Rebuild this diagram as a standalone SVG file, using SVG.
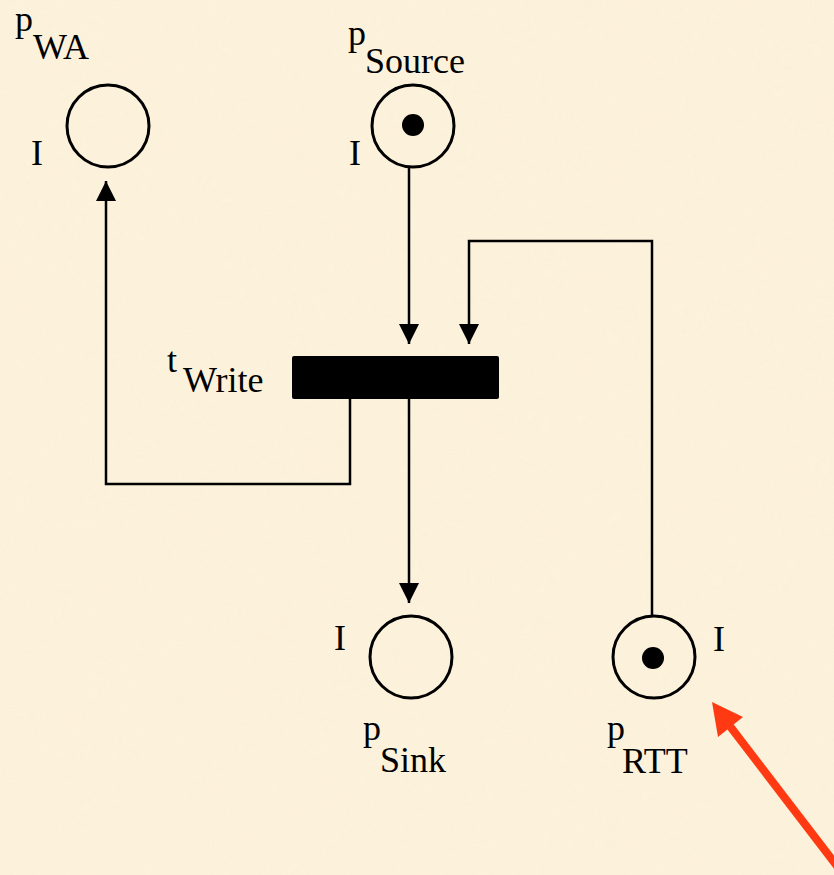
<svg xmlns="http://www.w3.org/2000/svg" width="834" height="875" viewBox="0 0 834 875">
<style>
.pl{fill:none;stroke:#000;stroke-width:3}
.tk{fill:#000}
.ed{fill:none;stroke:#000;stroke-width:2.5}
text{font-family:'Liberation Serif','Times New Roman',Times,serif;font-size:36px;fill:#000}
</style>
<defs>
<marker id="ah" markerUnits="userSpaceOnUse" markerWidth="20" markerHeight="22" viewBox="0 0 20 22" refX="20" refY="10" orient="auto">
<path d="M0,0 L20,10 L0,20 Z" fill="#000"/>
</marker>
<filter id="tex" x="0" y="0" width="100%" height="100%">
<feTurbulence type="fractalNoise" baseFrequency="0.02" numOctaves="3" seed="3"/>
<feColorMatrix type="matrix" values="0 0 0 0 0.98  0 0 0 0 0.93  0 0 0 0 0.82  0 0 0 0.25 0"/>
</filter>
</defs>
<rect width="834" height="875" fill="#fcf1da"/>
<rect width="834" height="875" filter="url(#tex)" opacity="0.6"/>

<g id="connectors">
<path class="ed" d="M409,167 L409,344" marker-end="url(#ah)"/>
<path class="ed" d="M652,616 L652,241 L469,241 L469,344" marker-end="url(#ah)"/>
<path class="ed" d="M350,399 L350,484 L106,484 L106,181" marker-end="url(#ah)"/>
<path class="ed" d="M409,399 L409,603" marker-end="url(#ah)"/>
</g>

<g id="pWA">
<circle class="pl" cx="108" cy="126" r="41"/>
<text x="15" y="31" font-family="Liberation Serif, serif">p</text>
<text x="33" y="59" font-family="Liberation Serif, serif">WA</text>
<text x="37" y="165" text-anchor="middle" font-family="Liberation Serif, serif">I</text>
</g>

<g id="pSource">
<circle class="pl" cx="413" cy="126" r="41"/>
<circle class="tk" cx="413" cy="125" r="11"/>
<text x="348" y="45" font-family="Liberation Serif, serif">p</text>
<text x="365" y="73" font-family="Liberation Serif, serif">Source</text>
<text x="355" y="165" text-anchor="middle" font-family="Liberation Serif, serif">I</text>
</g>

<g id="tWrite">
<rect x="292" y="356" width="207" height="43" rx="2" fill="#000"/>
<text x="167" y="372" font-family="Liberation Serif, serif">t</text>
<text x="183" y="392" font-family="Liberation Serif, serif">Write</text>
</g>

<g id="pSink">
<circle class="pl" cx="411" cy="657" r="41"/>
<text x="363" y="740" font-family="Liberation Serif, serif">p</text>
<text x="380" y="772" font-family="Liberation Serif, serif">Sink</text>
<text x="340" y="650" text-anchor="middle" font-family="Liberation Serif, serif">I</text>
</g>

<g id="pRTT">
<circle class="pl" cx="654" cy="657" r="41"/>
<circle class="tk" cx="653" cy="658" r="11"/>
<text x="607" y="740" font-family="Liberation Serif, serif">p</text>
<text x="622" y="773" font-family="Liberation Serif, serif">RTT</text>
<text x="719" y="651" text-anchor="middle" font-family="Liberation Serif, serif">I</text>
</g>

<g id="pointer">
<line x1="840" y1="870" x2="726" y2="721" stroke="#ff3a12" stroke-width="8"/>
<polygon points="712,702 743,717 718,737" fill="#ff3a12"/>
</g>
</svg>
